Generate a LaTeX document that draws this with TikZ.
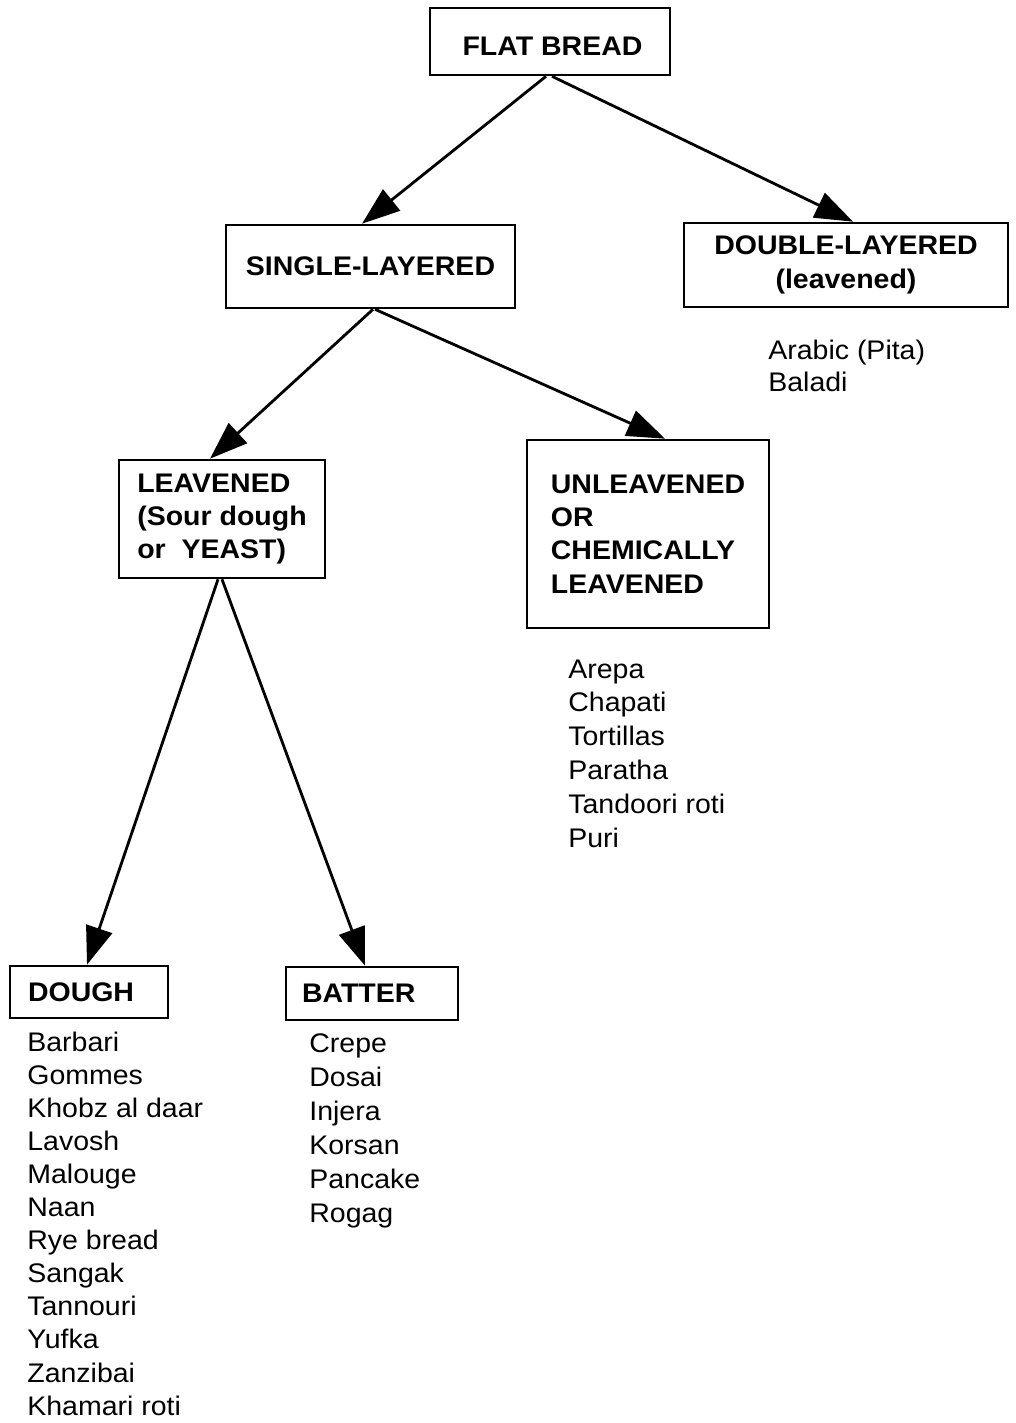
\documentclass[tikz,border=0pt]{standalone}
\usepackage{fontspec}
\setmainfont{Liberation Sans}[FakeStretch=1.06]
\usetikzlibrary{arrows.meta}

\newcommand*{\xmax}{1016}
\newcommand*{\ymax}{1423}
\newcommand*{\breadfont}{\fontsize{15.3pt}{19pt}\selectfont}

\begin{document}
\begin{tikzpicture}
[
	x=0.02cm, y=-0.02cm,
	box/.style={draw,line width=1.5pt,inner sep=0pt,font=\breadfont\bfseries},
	item/.style={anchor=base west,inner sep=0pt,font=\breadfont},
	arrow/.style={line width=1.6pt,-{Triangle[length=0.76cm,width=0.54cm]}}
]

	\useasboundingbox (0,0) rectangle (\xmax,\ymax);

	% boxes
	\node[box,minimum width=4.8cm,minimum height=1.34cm] (flat) at (550,41.5) {\raisebox{-0.1cm}[\height][0pt]{\hspace{0.1cm}FLAT BREAD}};
	\node[box,minimum width=5.78cm,minimum height=1.66cm] (single) at (370.5,266.5) {SINGLE-LAYERED};
	\node[box,minimum width=6.48cm,minimum height=1.68cm,align=center] (double) at (846,265) {DOUBLE-LAYERED\\(leavened)};
	\node[box,minimum width=4.12cm,minimum height=2.36cm,align=left] (leavened) at (222,519) {LEAVENED\\(Sour dough\\or~ YEAST)};
	\node[box,minimum width=4.84cm,minimum height=3.76cm,align=left] (unleavened) at (648,534) {UNLEAVENED\\OR\\CHEMICALLY\\LEAVENED};
	\node[box,text width=2.44cm,inner xsep=0.36cm,minimum height=1.04cm,align=left] (dough) at (89,992) {DOUGH};
	\node[box,text width=2.8cm,inner xsep=0.32cm,minimum height=1.06cm,align=left] (batter) at (372,993.5) {BATTER};

	% arrows
	\draw[arrow] ([xshift=-0.08cm]flat.south) -- ([xshift=-0.17cm]single.north);
	\draw[arrow] ([xshift=0.04cm]flat.south) -- ([xshift=0.14cm]double.north);
	\draw[arrow] ([xshift=0.05cm]single.south) -- ([xshift=-0.24cm]leavened.north);
	\draw[arrow] ([xshift=0.09cm]single.south) -- ([xshift=0.34cm]unleavened.north);
	\draw[arrow] ([xshift=-0.08cm]leavened.south) -- ([xshift=-0.04cm]dough.north);
	\draw[arrow] (leavened.south) -- ([xshift=-0.14cm]batter.north);

	% lists
	\node[item] (arabic) at (768,359) {Arabic (Pita)};
	\node[item] (baladi) at (768,391) {Baladi};
	\foreach \bread [count=\i] in {Arepa,Chapati,Tortillas,Paratha,Tandoori roti,Puri} {
		\node[item] (unleavened-\i) at (568,{678+33.8*(\i-1)}) {\bread};
	}
	\foreach \bread [count=\i] in {Barbari,Gommes,Khobz al daar,Lavosh,Malouge,Naan,Rye bread,Sangak,Tannouri,Yufka,Zanzibai,Khamari roti} {
		\node[item] (dough-\i) at (27,{1051+33.1*(\i-1)}) {\bread};
	}
	\foreach \bread [count=\i] in {Crepe,Dosai,Injera,Korsan,Pancake,Rogag} {
		\node[item] (batter-\i) at (309,{1052+34*(\i-1)}) {\bread};
	}

\end{tikzpicture}
\end{document}
